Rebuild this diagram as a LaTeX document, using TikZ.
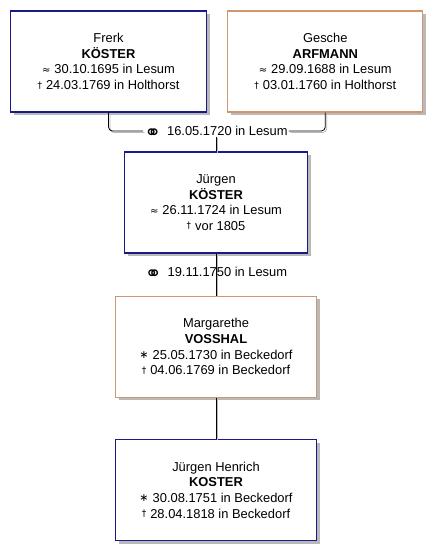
\documentclass[tikz,border=0pt]{standalone}
\usepackage{fontspec}
\setmainfont{Liberation Sans}
\newfontfamily\symfont{DejaVu Sans}
\usetikzlibrary{positioning, shadows}

\definecolor{mannblau}{RGB}{25,25,135}
\definecolor{fraurot}{RGB}{210,150,110}
\definecolor{schatten}{RGB}{185,185,185}

\newcommand{\taufe}{\raisebox{0.5pt}{\symfont\fontsize{10}{10}\selectfont ≈}\hspace{4pt}}
\newcommand{\tod}{\raisebox{1.5pt}{\symfont\fontsize{9}{9}\selectfont †}\hspace{4pt}}
\newcommand{\geb}{\raisebox{1pt}{\symfont\fontsize{11}{11}\selectfont ∗}\hspace{4pt}}
\newcommand{\ehe}{\smash{\raisebox{-3.5pt}{\symfont\fontsize{20}{20}\selectfont ⚭}}\hspace{6pt}}

\begin{document}
\begin{tikzpicture}[
    x=1pt, y=-1pt,
    every node/.style={font=\fontsize{12.9}{15.7}\selectfont},
    person/.style={rectangle, draw, line width=1.3pt, fill=white, minimum height=101pt, align=center, inner sep=0pt,
        drop shadow={shadow xshift=3pt, shadow yshift=-3pt, fill=schatten, opacity=1}},
    male/.style={person, draw=mannblau},
    female/.style={person, draw=fraurot},
    marriage/.style={inner sep=1pt, align=center},
    link/.style={draw=black, line width=0.8pt, preaction={draw=schatten, line width=0.8pt, transform canvas={shift={(1.5pt,-1.5pt)}}}}
]
\useasboundingbox (0,0) rectangle (440,558);

\node[male, minimum width=196pt] (frerk) at (108.5,61.5) {Frerk\\\textbf{KÖSTER}\\\taufe 30.10.1695 in Lesum\\\tod 24.03.1769 in Holthorst};
\node[female, minimum width=195pt, right=20pt of frerk] (gesche) {Gesche\\\textbf{ARFMANN}\\\taufe 29.09.1688 in Lesum\\\tod 03.01.1760 in Holthorst};

\node[marriage] (m1) at (216,131) {\ehe 16.05.1720 in Lesum};

\node[male, minimum width=183pt] (juergen) at (216,202.5) {Jürgen\\\textbf{KÖSTER}\\\taufe 26.11.1724 in Lesum\\\tod vor 1805};
\node[female, minimum width=201pt, below=42pt of juergen] (marg) {Margarethe\\\textbf{VOSSHAL}\\\geb 25.05.1730 in Beckedorf\\\tod 04.06.1769 in Beckedorf};
\node[male, minimum width=201pt, below=41pt of marg] (henrich) {Jürgen Henrich\\\textbf{KOSTER}\\\geb 30.08.1751 in Beckedorf\\\tod 28.04.1818 in Beckedorf};

% eltern
\path[link, rounded corners=4pt] (frerk.south) |- (m1.west);
\path[link, rounded corners=4pt] (gesche.south) |- (m1.east);
\foreach \von/\nach in {m1/juergen, juergen/marg, marg/henrich} {
    \path[link] (\von.south) -- (\nach.north);
}

\node[marriage] (m2) at (216,272) {\ehe 19.11.1750 in Lesum};

\end{tikzpicture}
\end{document}
